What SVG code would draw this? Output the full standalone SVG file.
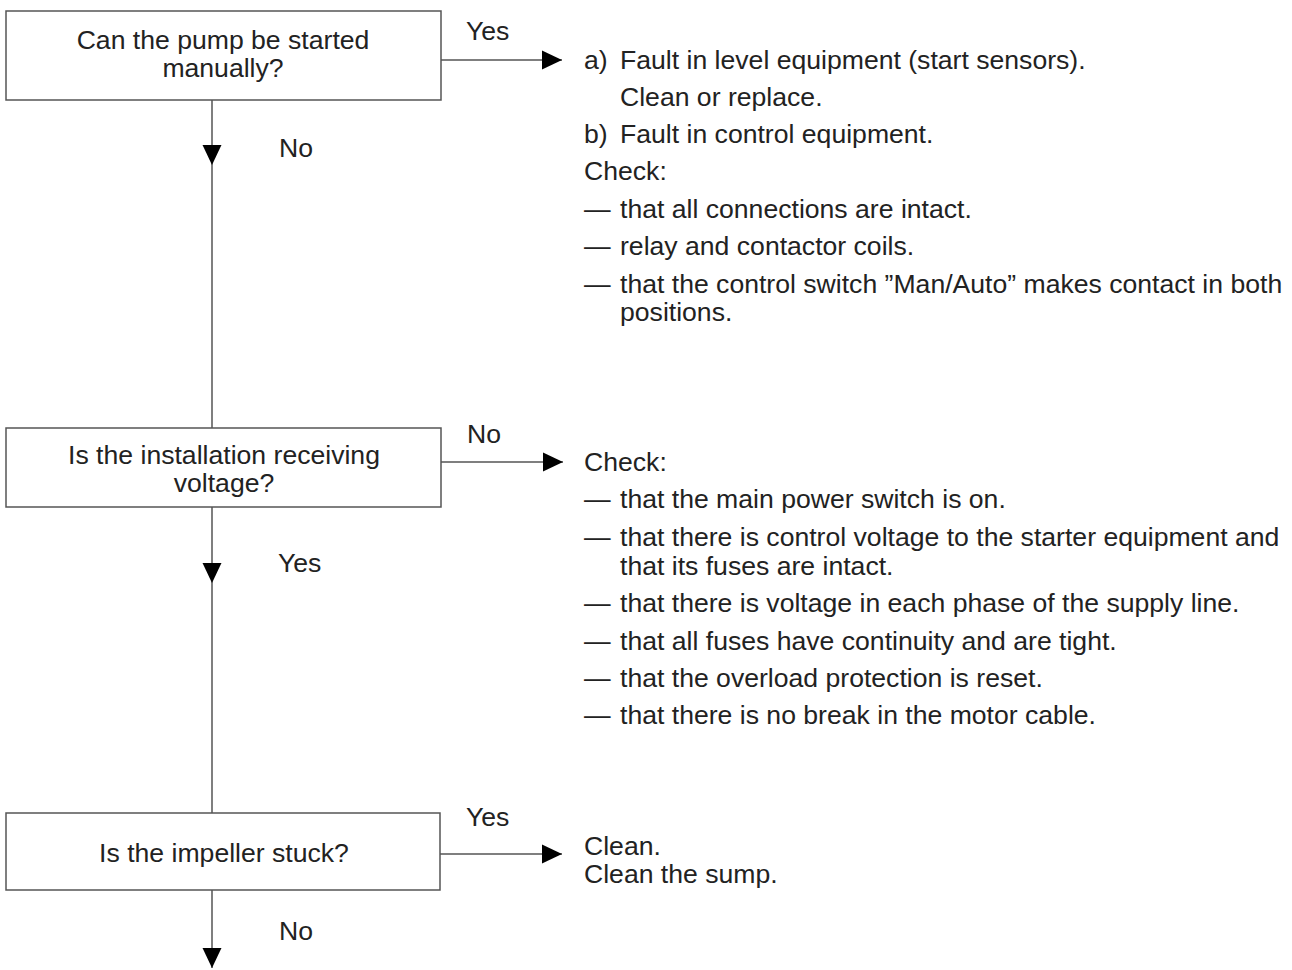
<svg xmlns="http://www.w3.org/2000/svg" width="1292" height="970" viewBox="0 0 1292 970">
<style>
.box{fill:#ffffff;stroke:#555555;stroke-width:1.5}
.ln{fill:none;stroke:#555555;stroke-width:1.5}
text{font-family:"Liberation Sans",Arial,Helvetica,sans-serif;font-size:26.6px;fill:#222222}
.c{text-anchor:middle}
</style>
<defs>
<marker id="ah" markerUnits="userSpaceOnUse" markerWidth="20" markerHeight="20" viewBox="0 0 19 18" refX="19" refY="9" orient="auto">
<path d="M0 0 L19 9 L0 18 Z" fill="#000000"/>
</marker>
</defs>
<rect width="1292" height="970" fill="#ffffff"/>
<g id="connectors">
<path class="ln" d="M212 100 V165" marker-end="url(#ah)"/>
<path class="ln" d="M212 165 V428"/>
<path class="ln" d="M212 507 V583" marker-end="url(#ah)"/>
<path class="ln" d="M212 583 V813"/>
<path class="ln" d="M212 890 V968" marker-end="url(#ah)"/>
<path class="ln" d="M441 60 H562" marker-end="url(#ah)"/>
<path class="ln" d="M441 462 H563" marker-end="url(#ah)"/>
<path class="ln" d="M440 854 H562" marker-end="url(#ah)"/>
<text x="466" y="40">Yes</text>
<text x="279" y="157">No</text>
<text x="467" y="443">No</text>
<text x="278" y="572">Yes</text>
<text x="466" y="826">Yes</text>
<text x="279" y="940">No</text>
</g>
<g id="q1">
<rect class="box" x="6" y="11" width="435" height="89"/>
<text class="c" x="223" y="49">Can the pump be started</text>
<text class="c" x="223" y="77">manually?</text>
</g>
<g id="q2">
<rect class="box" x="6" y="428" width="435" height="79"/>
<text class="c" x="224" y="464">Is the installation receiving</text>
<text class="c" x="224" y="492">voltage?</text>
</g>
<g id="q3">
<rect class="box" x="6" y="813" width="434" height="77"/>
<text class="c" x="224" y="862">Is the impeller stuck?</text>
</g>
<g id="r1">
<text x="584" y="69">a)<tspan x="620">Fault in level equipment (start sensors).</tspan></text>
<text x="620" y="106">Clean or replace.</text>
<text x="584" y="143">b)<tspan x="620">Fault in control equipment.</tspan></text>
<text x="584" y="180">Check:</text>
<text x="584" y="218">—<tspan x="620">that all connections are intact.</tspan></text>
<text x="584" y="255">—<tspan x="620">relay and contactor coils.</tspan></text>
<text x="584" y="293">—<tspan x="620">that the control switch ”Man/Auto” makes contact in both</tspan></text>
<text x="620" y="321">positions.</text>
</g>
<g id="r2">
<text x="584" y="471">Check:</text>
<text x="584" y="508">—<tspan x="620">that the main power switch is on.</tspan></text>
<text x="584" y="546">—<tspan x="620">that there is control voltage to the starter equipment and</tspan></text>
<text x="620" y="575">that its fuses are intact.</text>
<text x="584" y="612">—<tspan x="620">that there is voltage in each phase of the supply line.</tspan></text>
<text x="584" y="650">—<tspan x="620">that all fuses have continuity and are tight.</tspan></text>
<text x="584" y="687">—<tspan x="620">that the overload protection is reset.</tspan></text>
<text x="584" y="724">—<tspan x="620">that there is no break in the motor cable.</tspan></text>
</g>
<g id="r3">
<text x="584" y="855">Clean.</text>
<text x="584" y="883">Clean the sump.</text>
</g>
</svg>
